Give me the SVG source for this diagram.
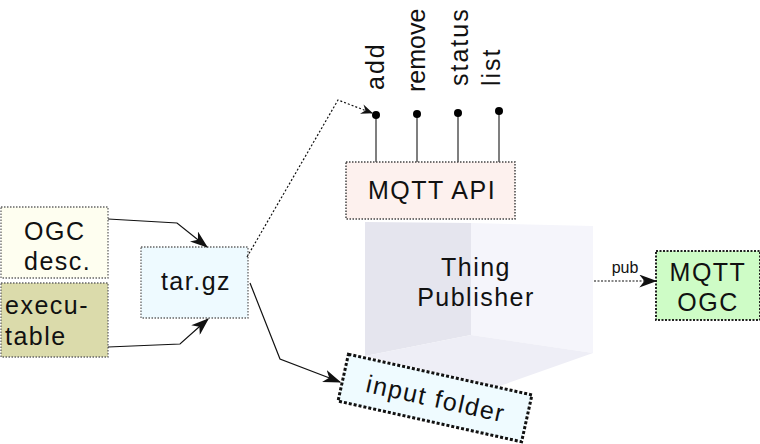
<svg xmlns="http://www.w3.org/2000/svg" width="760" height="444" viewBox="0 0 760 444">
<defs>
<style>
text{font-family:"Liberation Sans","DejaVu Sans",sans-serif;fill:#111;}
.lbl{font-size:25px;letter-spacing:1.5px;}
.pin{font-size:25px;letter-spacing:2px;}
.box{stroke:#666;stroke-width:1.3;stroke-dasharray:1.5,1.5;}
.conn{fill:none;stroke:#111;stroke-width:1.2;}
.dot{stroke-dasharray:2,2;}
</style>
<marker id="ah" viewBox="0 0 12 10" refX="11" refY="5" markerWidth="12" markerHeight="10" markerUnits="userSpaceOnUse" orient="auto">
<path d="M0,0 L12,5 L0,10 L4,5 z" fill="#111"/>
</marker>
<marker id="ah2" viewBox="0 0 14 10" refX="13" refY="5" markerWidth="18" markerHeight="13" markerUnits="userSpaceOnUse" orient="auto">
<path d="M0,0 L14,5 L0,10 L4,5 z" fill="#111"/>
</marker>
</defs>
<rect width="760" height="444" fill="#fff"/>

<g id="thing-publisher">
<polygon points="471,223 593,226 593,353 471,335" fill="#f5f5fb"/>
<polygon points="365,222 471,223 471,335 365,356" fill="#e5e5ee"/>
<polygon points="365,356 471,335 593,353 497,387" fill="#eeeef6"/>
<text class="lbl" x="476" y="276" text-anchor="middle">Thing</text>
<text class="lbl" x="476" y="306" text-anchor="middle">Publisher</text>
</g>

<g id="ogc-desc">
<rect class="box" x="1" y="207" width="107" height="71" fill="#fefef0"/>
<text class="lbl" x="24" y="240">OGC</text>
<text class="lbl" x="24" y="270">desc.</text>
</g>

<g id="executable">
<rect class="box" x="1" y="283" width="107" height="74" fill="#dbdbab"/>
<text class="lbl" x="5" y="314">execu-</text>
<text class="lbl" x="5" y="345">table</text>
</g>

<g id="targz">
<rect class="box" x="141" y="247" width="107" height="71" fill="#eefaff"/>
<text class="lbl" x="196" y="290" text-anchor="middle">tar.gz</text>
</g>

<g id="mqtt-api">
<rect x="346" y="162" width="169" height="57" fill="#fdf1ee" stroke="#444" stroke-width="1.5" stroke-dasharray="1.5,1.5"/>
<text class="lbl" x="432" y="199" text-anchor="middle">MQTT API</text>
</g>

<g id="api-pins" stroke="#555" stroke-width="1.5">
<line x1="376" y1="115" x2="376" y2="162"/>
<line x1="417" y1="114" x2="417" y2="162"/>
<line x1="458" y1="113" x2="458" y2="162"/>
<line x1="499" y1="111" x2="499" y2="162"/>
<circle cx="376" cy="115" r="4" fill="#000" stroke="none"/>
<circle cx="417" cy="114" r="4" fill="#000" stroke="none"/>
<circle cx="458" cy="113" r="4" fill="#000" stroke="none"/>
<circle cx="499" cy="111" r="4" fill="#000" stroke="none"/>
</g>
<g id="api-labels">
<text class="pin" transform="translate(384,90) rotate(-90)">add</text>
<text class="pin" transform="translate(425,92) rotate(-90)" style="letter-spacing:0">remove</text>
<text class="pin" transform="translate(468,86) rotate(-90)">status</text>
<text class="pin" transform="translate(500,86) rotate(-90)">list</text>
</g>

<g id="mqtt-ogc">
<rect x="656" y="251" width="104" height="69" fill="#cefcc6" stroke="#222" stroke-width="2" stroke-dasharray="2,1.5"/>
<text class="lbl" x="708" y="281" text-anchor="middle">MQTT</text>
<text class="lbl" x="708" y="311" text-anchor="middle">OGC</text>
</g>

<g id="input-folder" transform="translate(435,398) rotate(12.5)">
<rect x="-94" y="-24" width="188" height="48" fill="#effbff" stroke="#111" stroke-width="3" stroke-dasharray="3,2"/>
<text class="lbl" x="1" y="9" text-anchor="middle">input folder</text>
</g>

<g id="connectors">
<polyline class="conn" points="108,219 177,223 207,247" marker-end="url(#ah2)"/>
<polyline class="conn" points="108,347 180,344 208,319" marker-end="url(#ah2)"/>
<polyline class="conn dot" points="247,257 338,100 372,113" marker-end="url(#ah)" stroke-width="1"/>
<polyline class="conn" points="250,283 280,359 340,382" marker-end="url(#ah2)"/>
<line class="conn" x1="594" y1="281" x2="656" y2="281" stroke-dasharray="2,1.5" marker-end="url(#ah2)"/>
<text x="625" y="273" text-anchor="middle" font-size="16">pub</text>
</g>
</svg>
